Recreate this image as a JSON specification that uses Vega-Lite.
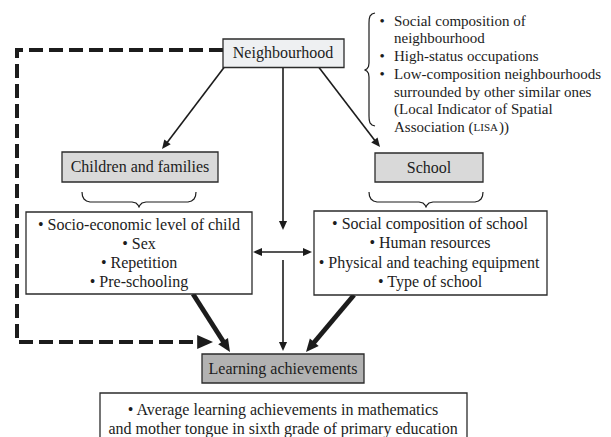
{
  "$schema": "https://vega.github.io/schema/vega-lite/v6.json",
  "width": 611,
  "height": 437,
  "padding": 0,
  "autosize": {"type": "fit", "contains": "padding"},
  "background": "white",
  "config": {"view": {"stroke": null}},
  "datasets": {
    "boxes": [
      {"box": "Neighbourhood", "kind": "top", "x": 223, "x2": 344, "y": 39, "y2": 67.5},
      {"box": "Children and families", "kind": "mid", "x": 62, "x2": 218, "y": 152, "y2": 182},
      {"box": "School", "kind": "mid", "x": 375, "x2": 483, "y": 153, "y2": 182},
      {"box": "Child factors", "kind": "list", "x": 26, "x2": 252, "y": 212, "y2": 294},
      {"box": "School factors", "kind": "list", "x": 314, "x2": 547, "y": 211, "y2": 295},
      {"box": "Learning achievements", "kind": "learn", "x": 202, "x2": 364, "y": 354, "y2": 383},
      {"box": "Outcome", "kind": "list", "x": 100, "x2": 467, "y": 393, "y2": 447}
    ],
    "shafts": [
      {"edge": "Neighbourhood-Children", "w": "thin", "x": 224, "y": 67.5, "x2": 166, "y2": 144},
      {"edge": "Neighbourhood-School", "w": "thin", "x": 319, "y": 67.5, "x2": 376, "y2": 142},
      {"edge": "Neighbourhood-Mid", "w": "thin", "x": 283, "y": 67.5, "x2": 283, "y2": 224},
      {"edge": "Children-School", "w": "thin", "x": 258, "y": 252, "x2": 307, "y2": 252},
      {"edge": "Neighbourhood-Learning", "w": "thin", "x": 283, "y": 260, "x2": 283, "y2": 345},
      {"edge": "Children-Learning", "w": "thick", "x": 193, "y": 294, "x2": 225.5, "y2": 345},
      {"edge": "School-Learning", "w": "thick", "x": 354, "y": 295, "x2": 311.5, "y2": 345.5}
    ],
    "heads": [
      {"edge": "Neighbourhood-Children", "w": "thin", "x": 162, "y": 149, "angle": 217.8},
      {"edge": "Neighbourhood-School", "w": "thin", "x": 380, "y": 147, "angle": 141.5},
      {"edge": "Neighbourhood-Mid", "w": "thin", "x": 283, "y": 230, "angle": 180},
      {"edge": "Children-School L", "w": "thin", "x": 253, "y": 252, "angle": 270},
      {"edge": "Children-School R", "w": "thin", "x": 312, "y": 252, "angle": 90},
      {"edge": "Neighbourhood-Learning", "w": "thin", "x": 283, "y": 351, "angle": 180},
      {"edge": "Children-Learning", "w": "thick", "x": 230, "y": 352, "angle": 147.5},
      {"edge": "School-Learning", "w": "thick", "x": 306, "y": 352, "angle": 220.1},
      {"edge": "Dashed", "w": "dash", "x": 213, "y": 342, "angle": 90}
    ],
    "dashed": [
      {"o": 1, "x": 223, "y": 50},
      {"o": 2, "x": 17, "y": 50},
      {"o": 3, "x": 17, "y": 342},
      {"o": 4, "x": 205, "y": 342}
    ],
    "braces": [
      {"b": "L", "o": 1, "x": 82, "y": 192},
      {"b": "L", "o": 2, "x": 82.5, "y": 196},
      {"b": "L", "o": 3, "x": 84, "y": 199},
      {"b": "L", "o": 4, "x": 86.5, "y": 201},
      {"b": "L", "o": 5, "x": 90, "y": 202},
      {"b": "L", "o": 6, "x": 132, "y": 202},
      {"b": "L", "o": 7, "x": 136, "y": 203},
      {"b": "L", "o": 8, "x": 138, "y": 205},
      {"b": "L", "o": 9, "x": 139, "y": 207},
      {"b": "L", "o": 10, "x": 140, "y": 205},
      {"b": "L", "o": 11, "x": 142, "y": 203},
      {"b": "L", "o": 12, "x": 146, "y": 202},
      {"b": "L", "o": 13, "x": 188, "y": 202},
      {"b": "L", "o": 14, "x": 191.5, "y": 201},
      {"b": "L", "o": 15, "x": 194, "y": 199},
      {"b": "L", "o": 16, "x": 195.5, "y": 196},
      {"b": "L", "o": 17, "x": 196, "y": 192},
      {"b": "S", "o": 1, "x": 369, "y": 192},
      {"b": "S", "o": 2, "x": 369.5, "y": 196},
      {"b": "S", "o": 3, "x": 371, "y": 199},
      {"b": "S", "o": 4, "x": 373.5, "y": 201},
      {"b": "S", "o": 5, "x": 377, "y": 202},
      {"b": "S", "o": 6, "x": 419, "y": 202},
      {"b": "S", "o": 7, "x": 423, "y": 203},
      {"b": "S", "o": 8, "x": 425, "y": 205},
      {"b": "S", "o": 9, "x": 426, "y": 207},
      {"b": "S", "o": 10, "x": 427, "y": 205},
      {"b": "S", "o": 11, "x": 429, "y": 203},
      {"b": "S", "o": 12, "x": 433, "y": 202},
      {"b": "S", "o": 13, "x": 475, "y": 202},
      {"b": "S", "o": 14, "x": 478.5, "y": 201},
      {"b": "S", "o": 15, "x": 481, "y": 199},
      {"b": "S", "o": 16, "x": 482.5, "y": 196},
      {"b": "S", "o": 17, "x": 483, "y": 192},
      {"b": "R", "o": 1, "x": 375, "y": 13},
      {"b": "R", "o": 2, "x": 372, "y": 14},
      {"b": "R", "o": 3, "x": 370, "y": 16},
      {"b": "R", "o": 4, "x": 369.2, "y": 19},
      {"b": "R", "o": 5, "x": 369, "y": 23},
      {"b": "R", "o": 6, "x": 369, "y": 63},
      {"b": "R", "o": 7, "x": 368.5, "y": 66.5},
      {"b": "R", "o": 8, "x": 367, "y": 68.8},
      {"b": "R", "o": 9, "x": 365, "y": 70},
      {"b": "R", "o": 10, "x": 367, "y": 71.2},
      {"b": "R", "o": 11, "x": 368.5, "y": 73.5},
      {"b": "R", "o": 12, "x": 369, "y": 77},
      {"b": "R", "o": 13, "x": 369, "y": 116},
      {"b": "R", "o": 14, "x": 369.2, "y": 120},
      {"b": "R", "o": 15, "x": 370, "y": 123},
      {"b": "R", "o": 16, "x": 372, "y": 125},
      {"b": "R", "o": 17, "x": 375, "y": 126}
    ],
    "centred": [
      {"text": "Neighbourhood", "x": 283, "y": 53},
      {"text": "Children and families", "x": 140, "y": 167},
      {"text": "School", "x": 429, "y": 168},
      {"text": "• Socio-economic level of child", "x": 139, "y": 225},
      {"text": "• Sex", "x": 139, "y": 244},
      {"text": "• Repetition", "x": 139, "y": 263},
      {"text": "• Pre-schooling", "x": 139, "y": 282},
      {"text": "• Social composition of school", "x": 430, "y": 224},
      {"text": "• Human resources", "x": 430, "y": 243},
      {"text": "• Physical and teaching equipment", "x": 429, "y": 263},
      {"text": "• Type of school", "x": 430, "y": 282},
      {"text": "Learning achievements", "x": 283, "y": 369},
      {"text": "• Average learning achievements in mathematics", "x": 283, "y": 410},
      {"text": "and mother tongue in sixth grade of primary education", "x": 283, "y": 429}
    ],
    "notes": [
      {"text": "•", "x": 379.5, "y": 20.5},
      {"text": "Social composition of", "x": 394, "y": 20.5},
      {"text": "neighbourhood", "x": 394, "y": 38},
      {"text": "•", "x": 379.5, "y": 56},
      {"text": "High-status occupations", "x": 394, "y": 56},
      {"text": "•", "x": 379.5, "y": 74},
      {"text": "Low-composition neighbourhoods", "x": 394, "y": 74},
      {"text": "surrounded by other similar ones", "x": 394, "y": 92},
      {"text": "(Local Indicator of Spatial", "x": 394, "y": 109},
      {"text": "Association (", "x": 394, "y": 127},
      {"text": "))", "x": 499, "y": 127}
    ],
    "caps": [
      {"text": "LISA", "x": 473.5, "y": 128}
    ]
  },
  "layer": [
    {
      "data": {"name": "dashed"},
      "mark": {"type": "line", "strokeDash": [14, 6], "strokeWidth": 4, "color": "#1c1c1c", "strokeJoin": "miter"},
      "encoding": {
        "x": {"field": "x", "type": "quantitative", "scale": {"domain": [0, 611], "nice": false, "zero": false}, "axis": null},
        "y": {"field": "y", "type": "quantitative", "scale": {"domain": [0, 437], "nice": false, "zero": false, "reverse": true}, "axis": null},
        "order": {"field": "o", "type": "quantitative"}
      }
    },
    {
      "data": {"name": "shafts"},
      "mark": {"type": "rule", "color": "#1c1c1c"},
      "encoding": {
        "x": {"field": "x", "type": "quantitative", "scale": {"domain": [0, 611], "nice": false, "zero": false}, "axis": null},
        "y": {"field": "y", "type": "quantitative", "scale": {"domain": [0, 437], "nice": false, "zero": false, "reverse": true}, "axis": null},
        "x2": {"field": "x2"},
        "y2": {"field": "y2"},
        "strokeWidth": {"field": "w", "type": "nominal", "scale": {"domain": ["thin", "thick"], "range": [1.6, 4.8]}, "legend": null}
      }
    },
    {
      "data": {"name": "heads"},
      "mark": {"type": "point", "shape": "M0,0 L-0.45,1 L0.45,1 Z", "filled": true, "color": "#1c1c1c", "opacity": 1, "strokeWidth": 0},
      "encoding": {
        "x": {"field": "x", "type": "quantitative", "scale": {"domain": [0, 611], "nice": false, "zero": false}, "axis": null},
        "y": {"field": "y", "type": "quantitative", "scale": {"domain": [0, 437], "nice": false, "zero": false, "reverse": true}, "axis": null},
        "angle": {"field": "angle", "type": "quantitative", "scale": null},
        "size": {"field": "w", "type": "nominal", "scale": {"domain": ["thin", "thick", "dash"], "range": [324, 1000, 300]}, "legend": null}
      }
    },
    {
      "data": {"name": "boxes"},
      "mark": {"type": "rect", "stroke": "#2b2b2b", "strokeWidth": 1.3, "clip": true},
      "encoding": {
        "x": {"field": "x", "type": "quantitative", "scale": {"domain": [0, 611], "nice": false, "zero": false}, "axis": null},
        "y": {"field": "y", "type": "quantitative", "scale": {"domain": [0, 437], "nice": false, "zero": false, "reverse": true}, "axis": null},
        "x2": {"field": "x2"},
        "y2": {"field": "y2"},
        "fill": {"field": "kind", "type": "nominal", "scale": {"domain": ["top", "mid", "learn", "list"], "range": ["#eef0f2", "#d9d9d9", "#b2b2b2", "#ffffff"]}, "legend": null}
      }
    },
    {
      "data": {"name": "braces"},
      "mark": {"type": "line", "strokeWidth": 1.2, "color": "#1c1c1c"},
      "encoding": {
        "x": {"field": "x", "type": "quantitative", "scale": {"domain": [0, 611], "nice": false, "zero": false}, "axis": null},
        "y": {"field": "y", "type": "quantitative", "scale": {"domain": [0, 437], "nice": false, "zero": false, "reverse": true}, "axis": null},
        "detail": {"field": "b", "type": "nominal"},
        "order": {"field": "o", "type": "quantitative"}
      }
    },
    {
      "data": {"name": "centred"},
      "mark": {"type": "text", "font": "Liberation Serif, Times New Roman, serif", "fontSize": 16, "color": "#1c1c1c", "align": "center", "baseline": "middle"},
      "encoding": {
        "x": {"field": "x", "type": "quantitative", "scale": {"domain": [0, 611], "nice": false, "zero": false}, "axis": null},
        "y": {"field": "y", "type": "quantitative", "scale": {"domain": [0, 437], "nice": false, "zero": false, "reverse": true}, "axis": null},
        "text": {"field": "text", "type": "nominal"}
      }
    },
    {
      "data": {"name": "notes"},
      "mark": {"type": "text", "font": "Liberation Serif, Times New Roman, serif", "fontSize": 15, "color": "#1c1c1c", "align": "left", "baseline": "middle"},
      "encoding": {
        "x": {"field": "x", "type": "quantitative", "scale": {"domain": [0, 611], "nice": false, "zero": false}, "axis": null},
        "y": {"field": "y", "type": "quantitative", "scale": {"domain": [0, 437], "nice": false, "zero": false, "reverse": true}, "axis": null},
        "text": {"field": "text", "type": "nominal"}
      }
    },
    {
      "data": {"name": "caps"},
      "mark": {"type": "text", "font": "Liberation Serif, Times New Roman, serif", "fontSize": 11, "color": "#1c1c1c", "align": "left", "baseline": "middle"},
      "encoding": {
        "x": {"field": "x", "type": "quantitative", "scale": {"domain": [0, 611], "nice": false, "zero": false}, "axis": null},
        "y": {"field": "y", "type": "quantitative", "scale": {"domain": [0, 437], "nice": false, "zero": false, "reverse": true}, "axis": null},
        "text": {"field": "text", "type": "nominal"}
      }
    }
  ]
}
